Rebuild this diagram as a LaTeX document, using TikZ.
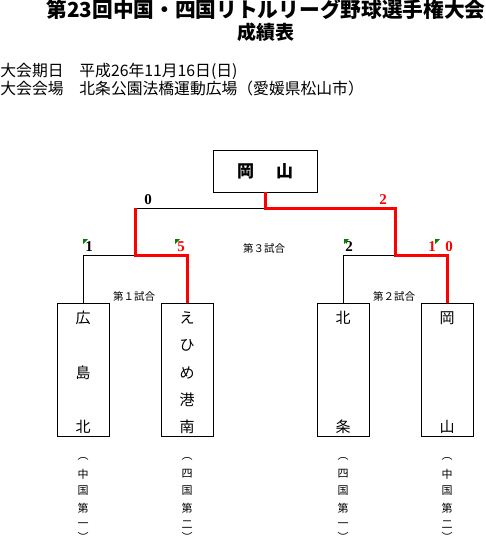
\documentclass[tikz,border=0pt]{standalone}
\usepackage{fontspec}
\setmainfont{Noto Sans CJK JP}
\newfontfamily\scorefont{Liberation Serif}
\usetikzlibrary{positioning}
\definecolor{winred}{HTML}{FF0000}
\definecolor{notegreen}{HTML}{008000}

\begin{document}
\begin{tikzpicture}[x=1pt, y=-1pt, line width=0.8pt]
    \tikzstyle{team} = [rectangle, draw, line width=0.8pt, minimum width=52pt, minimum height=133pt, anchor=north, inner sep=0pt]
    \tikzstyle{champ} = [rectangle, draw, line width=0.8pt, minimum width=104pt, minimum height=42pt, font=\fontsize{17}{17}\selectfont\bfseries]
    \tikzstyle{teamname} = [inner sep=0pt, font=\fontsize{15}{15}\selectfont]
    \tikzstyle{league} = [inner sep=0pt, font=\fontsize{11}{11}\selectfont]
    \tikzstyle{game} = [inner sep=0pt, font=\fontsize{10.5}{10.5}\selectfont]
    \tikzstyle{score} = [inner sep=0pt, font=\fontsize{15}{15}\selectfont\scorefont\bfseries]
    \tikzstyle{win} = [draw=winred, line width=3pt]
    \tikzstyle{lose} = [draw, line width=0.8pt]
    \tikzstyle{commentmark} = [fill=notegreen]

    \useasboundingbox (0,0) rectangle (485,543);

    % heading
    \node[inner sep=0pt, font=\fontsize{20.7}{20.7}\selectfont\bfseries] (title) at (266,9) {第23回中国・四国リトルリーグ野球選手権大会};
    \node[inner sep=0pt, font=\fontsize{19}{19}\selectfont\bfseries] (subtitle) at (266,32) {成績表};
    \node[anchor=west, inner sep=0pt, font=\fontsize{15.8}{15.8}\selectfont] (date) at (0,71) {大会期日　平成26年11月16日(日)};
    \node[anchor=west, inner sep=0pt, font=\fontsize{15.8}{15.8}\selectfont] (venue) at (0,88) {大会会場　北条公園法橋運動広場（愛媛県松山市）};

    % champion and teams
    \node[champ] (final) at (265,171) {岡\hspace{22pt}山};
    \node[team] (hiroshima) at (83,303) {};
    \node[team] (ehime) at (187,303) {};
    \node[team] (hojo) at (343,303) {};
    \node[team] (okayama) at (447,303) {};

    \foreach \c [count=\i from 0] in {広,島,北}
        \node[teamname] (hiroshima-\i) at (83,318+54.5*\i) {\c};
    \foreach \c [count=\i from 0] in {え,ひ,め,港,南}
        \node[teamname] (ehime-\i) at (187,318+27.25*\i) {\c};
    \node[teamname] (hojo-0) at (343,318) {北};
    \node[teamname] (hojo-1) at (343,427) {条};
    \node[teamname] (okayama-0) at (447,318) {岡};
    \node[teamname] (okayama-1) at (447,427) {山};

    % league seeds
    \foreach \x/\a/\b in {83/中/一, 187/四/二, 343/四/一, 447/中/二} {
        \node[league] (open-\x) at (\x,459) {︵};
        \foreach \c [count=\i from 0] in {\a,国,第,\b}
            \node[league] (seed-\x-\i) at (\x,474+17*\i) {\c};
        \node[league] (close-\x) at (\x,537) {︶};
    }

    % bracket
    \coordinate (g3) at (265,208);
    \coordinate (g3l) at (135,208);
    \coordinate (g1) at (135,255);
    \coordinate (g2) at (395,255);

    \draw[lose] (g3l) -- (g3);
    \draw[lose] (hiroshima.north) |- (g1);
    \draw[lose] (hojo.north) |- (g2);
    \draw[win] (final.south) -- (g3) -| (g2) -| (okayama.north);
    \draw[win] (g3l) -- (g1) -| (ehime.north);

    \node[game] (game1) at (134,296) {第１試合};
    \node[game] (game2) at (394,296) {第２試合};
    \node[game] (game3) at (264,248) {第３試合};

    % scores
    \node[score] (sc-g3l) at (148,200) {0};
    \node[score, text=winred] (sc-g3r) at (383,200) {2};
    \node[score] (sc-hiroshima) at (89,247) {1};
    \node[score, text=winred] (sc-ehime) at (181,247) {5};
    \node[score] (sc-hojo) at (349,247) {2};
    \node[score, text=winred] (sc-okayama-a) at (432,247) {1};
    \node[score, text=winred] (sc-okayama-b) at (449,247) {0};

    \foreach \x in {83,175,344,435}
        \fill[commentmark] (\x,239) -- ++(5,0) -- ++(-5,5) -- cycle;
\end{tikzpicture}
\end{document}
